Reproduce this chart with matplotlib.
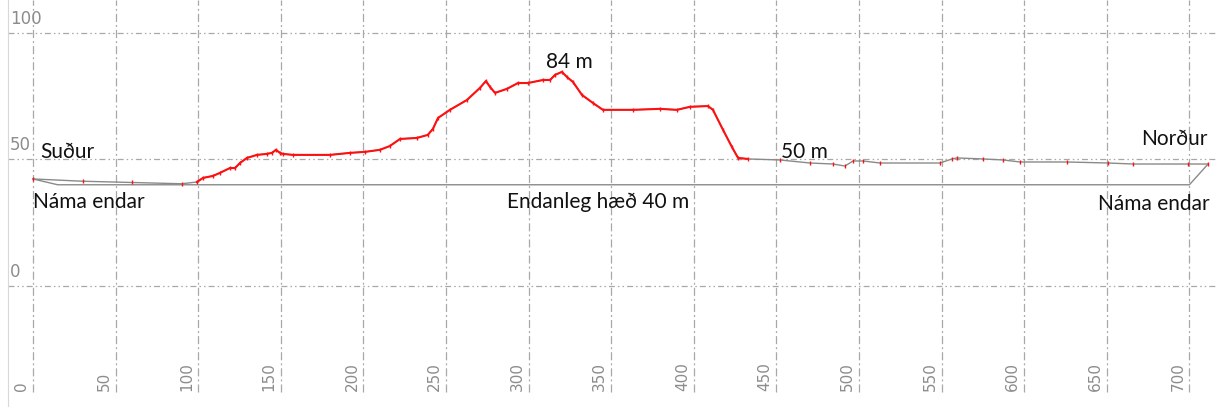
import matplotlib.pyplot as plt
import numpy as np

plt.rcParams['lines.scale_dashes'] = False

# terrain profile (distance m, height m)
dist = [0, 30, 60, 90, 99.3, 102.9, 109, 113.2, 119.2, 122.3, 125.3, 129.5, 135.6,
        141.6, 144.7, 147.1, 149.5, 151.3, 157.4, 179.8, 191.9, 201, 210, 216,
        222.2, 232.4, 239, 242.1, 245.2, 252.4, 262.7, 270.6, 274.2, 276.6, 279.7,
        286.9, 293.6, 299.6, 308.7, 313, 316, 320.2, 323.2, 326.9, 332.3, 339, 345,
        363.2, 379.5, 389.8, 397.7, 408.6, 411.6, 417.7, 423.1, 426.8, 432.8,
        452.2, 470.3, 484.3, 491.5, 496.4, 502.4, 512.7, 549, 556.3, 559.3, 575,
        587.2, 597.5, 625.9, 650.7, 665.9, 699.2, 711.3]
height = [42.3, 41.4, 40.9, 40.4, 41.1, 42.7, 43.5, 44.7, 46.6, 46.6, 48.6, 50.6, 51.8,
          52.2, 52.6, 53.8, 52.6, 52.2, 51.8, 51.8, 52.6, 53.0, 53.8, 55.3,
          58.1, 58.5, 59.7, 62.1, 66.4, 69.6, 73.5, 78.3, 81.0, 78.7, 76.3,
          77.9, 80.2, 80.2, 81.4, 81.4, 83.4, 84.6, 82.6, 80.6, 75.5, 72.3, 69.6,
          69.6, 70.0, 69.6, 70.8, 71.1, 69.6, 61.7, 54.9, 50.6, 50.2,
          49.8, 48.6, 48.2, 47.4, 49.4, 49.4, 48.6, 48.6, 50.2, 50.6, 50.2,
          49.8, 49.0, 49.0, 48.6, 48.2, 48.2, 48.2]
red_start, red_end = 4, 56   # measured part drawn in red

# final quarry floor
floor_x = [0, 15, 700, 711.3]
floor_y = [42.3, 40, 40, 48.2]

xticks = np.arange(0, 701, 50)
yticks = [0, 50, 100]

fig = plt.figure(figsize=(12.17, 4.07), dpi=100)
ax = fig.add_axes([8 / 1217, 0, 1 - 8 / 1217, 1])
ax.set_xlim(-15.1, 716.7)
ax.set_ylim(-47.8, 113)
for s in ['top', 'right', 'bottom']:
    ax.spines[s].set_visible(False)
ax.spines['left'].set_color('#d8d8d8')
ax.set_xticks([])
ax.set_yticks([])

grid_c = '#a8a8a8'
ax.vlines(xticks, -41.9, 113, colors=grid_c, lw=0.9,
          linestyles=[(0, (5.8, 2.2, 1.4, 2.2))], zorder=1)
for yv in yticks:
    ax.axhline(yv, color=grid_c, lw=0.9,
               linestyle=(0, (4.3, 2.2, 1.1, 2.2, 1.1, 2.2)), zorder=1)

# tick labels
for xv in xticks:
    ax.text(xv - 2.4, -41.5, str(xv), rotation=90, ha='right', va='bottom',
            fontsize=11, color='#8c8c8c', family='DejaVu Sans')
for yv in yticks:
    ax.text(-13.9, yv + 2.0, str(yv), ha='left', va='bottom',
            fontsize=12, color='#8c8c8c', family=['Liberation Sans Narrow', 'DejaVu Sans'])

# profile
ax.plot(floor_x, floor_y, color='#8a8a8a', lw=1.0, zorder=2)
ax.plot(dist, height, color='#8a8a8a', lw=1.0, zorder=3)
ax.plot(dist[red_start:red_end + 1], height[red_start:red_end + 1], color='#ff1010',
        lw=1.5, zorder=4)
ax.plot(dist, height, ls='none', marker='|', ms=3, mew=1, color='#ff1010', zorder=5)

# annotations
tf = dict(fontsize=15, color='#111111', family=['Lato', 'DejaVu Sans'])
ax.text(4.2, 50.6, 'Suður', ha='left', va='baseline', **tf)
ax.text(0, 30.8, 'Náma endar', ha='left', va='baseline', **tf)
ax.text(342, 30.8, 'Endanleg hæð 40 m', ha='center', va='baseline', **tf)
ax.text(324.5, 86.2, '84 m', ha='center', va='baseline', **tf)
ax.text(467, 50.6, '50 m', ha='center', va='baseline', **tf)
ax.text(710.7, 55.7, 'Norður', ha='right', va='baseline', **tf)
ax.text(712.5, 30.0, 'Náma endar', ha='right', va='baseline', **tf)

fig.savefig('out.png', dpi=100)
